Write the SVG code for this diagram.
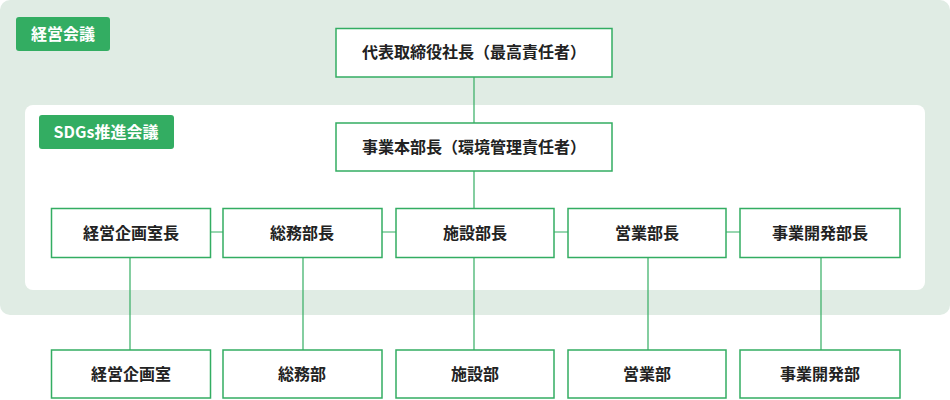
<svg xmlns="http://www.w3.org/2000/svg" width="950" height="400" viewBox="0 0 950 400">
<style>
.b{fill:#fff;stroke:#33ad62;stroke-width:1.5}
.t{font-family:"Noto Sans CJK JP",sans-serif;font-size:16px;font-weight:bold;fill:#222;text-anchor:middle}
.l{font-family:"Noto Sans CJK JP",sans-serif;font-size:16px;font-weight:bold;fill:#fff;text-anchor:middle}
.c{stroke:#33ad62;stroke-width:1.2;fill:none}
</style>
<rect x="0" y="0" width="950" height="315" rx="10" fill="#e0ece4"/>
<rect x="25" y="105" width="900" height="185" rx="8" fill="#fff"/>
<g id="label1"><rect x="16" y="17" width="94" height="34" rx="3" fill="#33ad62"/><text class="l" x="63" y="40">経営会議</text></g>
<g id="label2"><rect x="39" y="115" width="135" height="34" rx="3" fill="#33ad62"/><text class="l" x="106" y="138">SDGs推進会議</text></g>
<g id="connectors">
<line class="c" x1="474" y1="77" x2="474" y2="123"/>
<line class="c" x1="474" y1="171" x2="474" y2="208"/>
<line class="c" x1="210" y1="232" x2="740" y2="232"/>
<line class="c" x1="130" y1="257" x2="130" y2="350"/>
<line class="c" x1="303" y1="257" x2="303" y2="350"/>
<line class="c" x1="474" y1="257" x2="474" y2="350"/>
<line class="c" x1="648" y1="257" x2="648" y2="350"/>
<line class="c" x1="821" y1="257" x2="821" y2="350"/>
</g>
<g id="ceo"><rect class="b" x="336" y="28.5" width="276" height="48.5"/><text class="t" x="474" y="58">代表取締役社長（最高責任者）</text></g>
<g id="hq"><rect class="b" x="336" y="123" width="276" height="48"/><text class="t" x="474" y="153">事業本部長（環境管理責任者）</text></g>
<g id="m1"><rect class="b" x="51.5" y="208.5" width="159" height="49"/><text class="t" x="131" y="239">経営企画室長</text></g>
<g id="m2"><rect class="b" x="223" y="208.5" width="159" height="49"/><text class="t" x="302" y="239">総務部長</text></g>
<g id="m3"><rect class="b" x="396" y="208.5" width="158" height="49"/><text class="t" x="475" y="239">施設部長</text></g>
<g id="m4"><rect class="b" x="568" y="208.5" width="158" height="49"/><text class="t" x="647" y="239">営業部長</text></g>
<g id="m5"><rect class="b" x="740" y="208.5" width="160" height="49"/><text class="t" x="820" y="239">事業開発部長</text></g>
<g id="d1"><rect class="b" x="51.5" y="350" width="159" height="48"/><text class="t" x="131" y="380">経営企画室</text></g>
<g id="d2"><rect class="b" x="223" y="350" width="159" height="48"/><text class="t" x="302" y="380">総務部</text></g>
<g id="d3"><rect class="b" x="396" y="350" width="158" height="48"/><text class="t" x="475" y="380">施設部</text></g>
<g id="d4"><rect class="b" x="568" y="350" width="158" height="48"/><text class="t" x="647" y="380">営業部</text></g>
<g id="d5"><rect class="b" x="740" y="350" width="160" height="48"/><text class="t" x="820" y="380">事業開発部</text></g>
</svg>
